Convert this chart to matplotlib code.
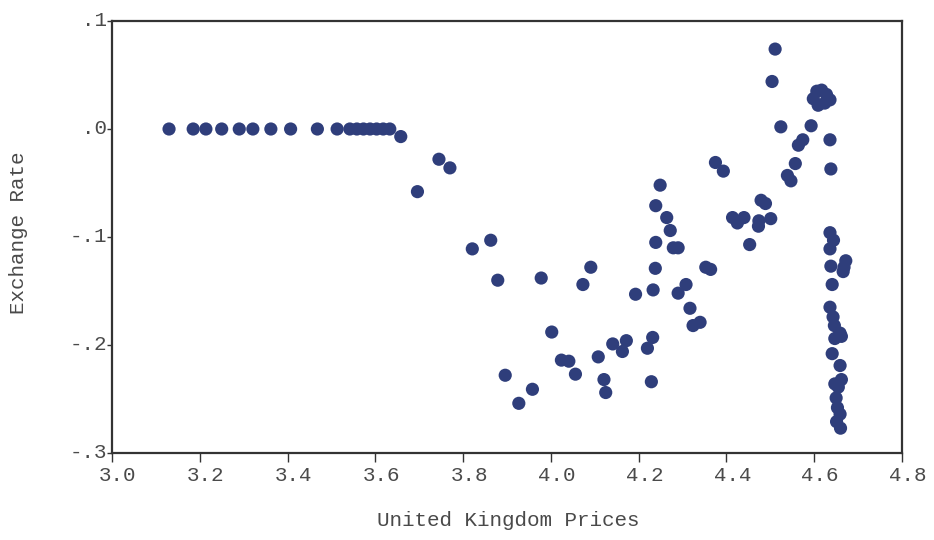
import matplotlib.pyplot as plt
from matplotlib.transforms import ScaledTranslation

plt.rcParams.update({
    "font.family": "Liberation Mono",
    "font.size": 15,
})

# UK prices (log level) vs. exchange rate
uk_prices = [
    3.130, 3.185, 3.214, 3.250, 3.290, 3.321, 3.362, 3.407, 3.468, 3.513,
    3.542, 3.558, 3.573, 3.588, 3.603, 3.618, 3.633,
    3.658, 3.696, 3.745, 3.770, 3.821, 3.863, 3.879, 3.896, 3.927, 3.958,
    3.978, 4.002, 4.024, 4.041, 4.056, 4.073, 4.091, 4.108, 4.121, 4.125,
    4.141, 4.163, 4.172, 4.193, 4.220, 4.229, 4.232, 4.233, 4.238, 4.239,
    4.239, 4.249, 4.264, 4.272, 4.279, 4.290, 4.290, 4.308, 4.317, 4.324,
    4.340, 4.353, 4.364, 4.375, 4.393, 4.414, 4.425, 4.440, 4.453, 4.473,
    4.474, 4.479, 4.489, 4.501, 4.504, 4.511, 4.524, 4.539, 4.547, 4.557,
    4.564, 4.574, 4.593,
    4.598, 4.606, 4.609, 4.617, 4.624, 4.628, 4.636,
    4.636, 4.638, 4.636, 4.644, 4.636, 4.638, 4.641, 4.636, 4.643, 4.646,
    4.647, 4.659, 4.662, 4.641, 4.659, 4.647, 4.662, 4.655, 4.650, 4.653,
    4.659, 4.651, 4.660, 4.672, 4.668, 4.666,
]
exchange_rate = [
    0.000, 0.000, 0.000, 0.000, 0.000, 0.000, 0.000, 0.000, 0.000, 0.000,
    0.000, 0.000, 0.000, 0.000, 0.000, 0.000, 0.000,
    -0.007, -0.058, -0.028, -0.036, -0.111, -0.103, -0.140, -0.228, -0.254, -0.241,
    -0.138, -0.188, -0.214, -0.215, -0.227, -0.144, -0.128, -0.211, -0.232, -0.244,
    -0.199, -0.206, -0.196, -0.153, -0.203, -0.234, -0.193, -0.149, -0.129, -0.105,
    -0.071, -0.052, -0.082, -0.094, -0.110, -0.110, -0.152, -0.144, -0.166, -0.182,
    -0.179, -0.128, -0.130, -0.031, -0.039, -0.082, -0.087, -0.082, -0.107, -0.090,
    -0.085, -0.066, -0.069, -0.083, 0.044, 0.074, 0.002, -0.043, -0.048, -0.032,
    -0.015, -0.010, 0.003,
    0.028, 0.035, 0.022, 0.036, 0.024, 0.032, 0.027,
    -0.010, -0.037, -0.096, -0.103, -0.111, -0.127, -0.144, -0.165, -0.174, -0.182,
    -0.194, -0.189, -0.192, -0.208, -0.219, -0.236, -0.232, -0.239, -0.249, -0.258,
    -0.264, -0.271, -0.277, -0.122, -0.128, -0.132,
]

x_ticks = [3.0, 3.2, 3.4, 3.6, 3.8, 4.0, 4.2, 4.4, 4.6, 4.8]
x_ticklabels = ["3.0", "3.2", "3.4", "3.6", "3.8", "4.0", "4.2", "4.4", "4.6", "4.8"]
y_ticks = [0.1, 0.0, -0.1, -0.2, -0.3]
y_ticklabels = [".1", ".0", "-.1", "-.2", "-.3"]

DOT = "#2f3e7b"
FRAME = "#333333"
TEXT = "#4a4a4a"

fig = plt.figure(figsize=(9.34, 5.40), dpi=100)
ax = fig.add_axes([0.1199, 0.1611, 0.8458, 0.8000])

ax.scatter(uk_prices, exchange_rate, s=90, color=DOT, edgecolors="none", zorder=3)

ax.set_xlim(3.0, 4.8)
ax.set_ylim(-0.3, 0.1)

ax.set_xticks(x_ticks)
ax.set_xticklabels(x_ticklabels, color=TEXT)
ax.set_yticks(y_ticks)
ax.set_yticklabels(y_ticklabels, color=TEXT)

ax.tick_params(axis="x", direction="out", length=6.5, width=1.0, color=FRAME, pad=3)
ax.tick_params(axis="y", direction="out", length=3.5, width=1.0, color=FRAME, pad=0)

# typewriter-style labels sit a little right of the ticks / a little high
shift_x = ScaledTranslation(6 / 100, 0, fig.dpi_scale_trans)
for lbl in ax.get_xticklabels():
    lbl.set_transform(lbl.get_transform() + shift_x)
shift_y = ScaledTranslation(0, 3 / 100, fig.dpi_scale_trans)
for lbl in ax.get_yticklabels():
    lbl.set_transform(lbl.get_transform() + shift_y)

for sp in ax.spines.values():
    sp.set_color(FRAME)
    sp.set_linewidth(1.6)

ax.set_xlabel("United Kingdom Prices", color=TEXT)
ax.set_ylabel("Exchange Rate", color=TEXT)
ax.xaxis.set_label_coords(0.501, -0.134)
ax.yaxis.set_label_coords(-0.106, 0.509)

fig.savefig("out.png", dpi=100, facecolor="white")
